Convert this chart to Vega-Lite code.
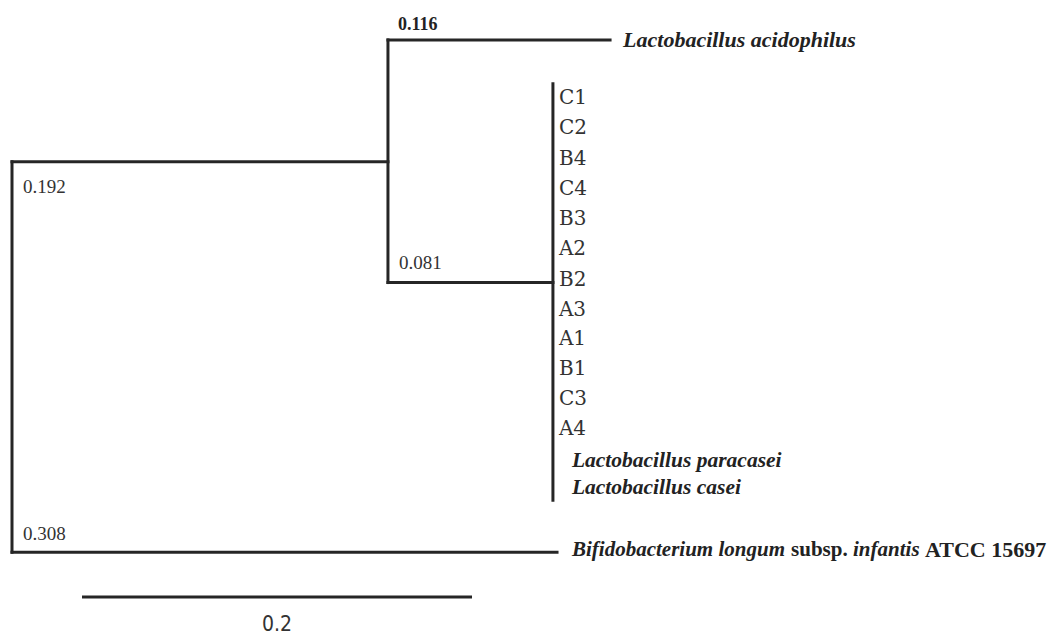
{
  "$schema": "https://vega.github.io/schema/vega-lite/v6.json",
  "width": 1054,
  "height": 635,
  "autosize": {"type": "fit", "contains": "padding"},
  "padding": 0,
  "background": "white",
  "config": {"view": {"stroke": null}},
  "datasets": {
    "branches": [
      {"id": "root-vertical", "x": 0, "x2": 0, "y": 162, "y2": 553},
      {"id": "root-nodeA", "x": 0, "x2": 0.1928, "y": 162, "y2": 162},
      {"id": "nodeA-vertical", "x": 0.1928, "x2": 0.1928, "y": 40, "y2": 283},
      {"id": "acidophilus", "x": 0.1928, "x2": 0.3067, "y": 40, "y2": 40},
      {"id": "nodeA-cluster", "x": 0.1928, "x2": 0.2774, "y": 283, "y2": 283},
      {"id": "cluster-vertical", "x": 0.2774, "x2": 0.2774, "y": 84, "y2": 501},
      {"id": "bifidobacterium", "x": 0, "x2": 0.2795, "y": 553, "y2": 553}
    ],
    "scalebar": [
      {"label": "0.2", "x": 0.0359, "x2": 0.2359, "y": 598, "mid": 0.1359, "labelY": 626}
    ],
    "leaves": [
      {"name": "Lactobacillus acidophilus", "kind": "species", "x": 0.3067, "y": 40},
      {"name": "C1", "kind": "isolate", "x": 0.2774, "y": 98},
      {"name": "C2", "kind": "isolate", "x": 0.2774, "y": 128},
      {"name": "B4", "kind": "isolate", "x": 0.2774, "y": 159},
      {"name": "C4", "kind": "isolate", "x": 0.2774, "y": 189},
      {"name": "B3", "kind": "isolate", "x": 0.2774, "y": 219},
      {"name": "A2", "kind": "isolate", "x": 0.2774, "y": 249},
      {"name": "B2", "kind": "isolate", "x": 0.2774, "y": 280},
      {"name": "A3", "kind": "isolate", "x": 0.2774, "y": 310},
      {"name": "A1", "kind": "isolate", "x": 0.2774, "y": 340},
      {"name": "B1", "kind": "isolate", "x": 0.2774, "y": 370},
      {"name": "C3", "kind": "isolate", "x": 0.2774, "y": 400},
      {"name": "A4", "kind": "isolate", "x": 0.2774, "y": 430},
      {"name": "Lactobacillus paracasei", "kind": "cluster species", "x": 0.2774, "y": 462},
      {"name": "Lactobacillus casei", "kind": "cluster species", "x": 0.2774, "y": 489}
    ],
    "bifido": [
      {"part": "Bifidobacterium longum", "x": 0.2795, "y": 551},
      {"part": "subsp.", "x": 0.2795, "y": 551},
      {"part": "infantis", "x": 0.2795, "y": 551},
      {"part": "ATCC 15697", "x": 0.2795, "y": 551}
    ],
    "nodeLabels": [
      {"label": "0.192", "x": 0, "y": 187, "weight": "normal"},
      {"label": "0.081", "x": 0.1928, "y": 263, "weight": "normal"},
      {"label": "0.308", "x": 0, "y": 535, "weight": "normal"},
      {"label": "0.116", "x": 0.1928, "y": 25, "weight": "bold"}
    ]
  },
  "layer": [
    {
      "data": {"name": "branches"},
      "mark": {"type": "rule", "strokeWidth": 3, "color": "#262626", "strokeCap": "square"},
      "encoding": {
        "x": {"field": "x", "type": "quantitative", "scale": {"domain": [-0.006154, 0.534359], "nice": false, "zero": false}, "axis": null},
        "x2": {"field": "x2"},
        "y": {"field": "y", "type": "quantitative", "scale": {"domain": [635, 0], "nice": false, "zero": false}, "axis": null},
        "y2": {"field": "y2"}
      }
    },
    {
      "data": {"name": "scalebar"},
      "mark": {"type": "rule", "strokeWidth": 3, "color": "#262626"},
      "encoding": {
        "x": {"field": "x", "type": "quantitative"},
        "x2": {"field": "x2"},
        "y": {"field": "y", "type": "quantitative"}
      }
    },
    {
      "data": {"name": "scalebar"},
      "mark": {"type": "text", "font": "Liberation Sans Narrow, DejaVu Sans Condensed, Liberation Sans", "fontSize": 21, "color": "#333333", "align": "center", "baseline": "middle"},
      "encoding": {
        "x": {"field": "mid", "type": "quantitative"},
        "y": {"field": "labelY", "type": "quantitative"},
        "text": {"field": "label"}
      }
    },
    {
      "data": {"name": "leaves"},
      "transform": [{"filter": "datum.kind === 'isolate'"}],
      "mark": {"type": "text", "font": "DejaVu Serif", "fontSize": 20, "color": "#333333", "align": "left", "baseline": "middle", "dx": 6},
      "encoding": {
        "x": {"field": "x", "type": "quantitative"},
        "y": {"field": "y", "type": "quantitative"},
        "text": {"field": "name"}
      }
    },
    {
      "data": {"name": "leaves"},
      "transform": [{"filter": "datum.kind === 'species'"}],
      "mark": {"type": "text", "font": "Liberation Serif, Times New Roman, serif", "fontSize": 22, "fontStyle": "italic", "fontWeight": "bold", "color": "#222222", "align": "left", "baseline": "middle", "dx": 13},
      "encoding": {
        "x": {"field": "x", "type": "quantitative"},
        "y": {"field": "y", "type": "quantitative"},
        "text": {"field": "name"}
      }
    },
    {
      "data": {"name": "leaves"},
      "transform": [{"filter": "datum.kind === 'cluster species'"}],
      "mark": {"type": "text", "font": "Liberation Serif, Times New Roman, serif", "fontSize": 21.5, "fontStyle": "italic", "fontWeight": "bold", "color": "#222222", "align": "left", "baseline": "middle", "dx": 19},
      "encoding": {
        "x": {"field": "x", "type": "quantitative"},
        "y": {"field": "y", "type": "quantitative"},
        "text": {"field": "name"}
      }
    },
    {
      "data": {"name": "bifido"},
      "transform": [{"filter": "datum.part === 'Bifidobacterium longum'"}],
      "mark": {"type": "text", "font": "Liberation Serif, Times New Roman, serif", "fontSize": 21, "fontStyle": "italic", "fontWeight": "bold", "color": "#222222", "align": "left", "baseline": "middle", "dx": 15},
      "encoding": {
        "x": {"field": "x", "type": "quantitative"},
        "y": {"field": "y", "type": "quantitative"},
        "text": {"field": "part"}
      }
    },
    {
      "data": {"name": "bifido"},
      "transform": [{"filter": "datum.part === 'subsp.'"}],
      "mark": {"type": "text", "font": "Liberation Serif, Times New Roman, serif", "fontSize": 21, "fontWeight": "bold", "color": "#222222", "align": "left", "baseline": "middle", "dx": 234},
      "encoding": {
        "x": {"field": "x", "type": "quantitative"},
        "y": {"field": "y", "type": "quantitative"},
        "text": {"field": "part"}
      }
    },
    {
      "data": {"name": "bifido"},
      "transform": [{"filter": "datum.part === 'infantis'"}],
      "mark": {"type": "text", "font": "Liberation Serif, Times New Roman, serif", "fontSize": 21, "fontStyle": "italic", "fontWeight": "bold", "color": "#222222", "align": "left", "baseline": "middle", "dx": 296},
      "encoding": {
        "x": {"field": "x", "type": "quantitative"},
        "y": {"field": "y", "type": "quantitative"},
        "text": {"field": "part"}
      }
    },
    {
      "data": {"name": "bifido"},
      "transform": [{"filter": "datum.part === 'ATCC 15697'"}],
      "mark": {"type": "text", "font": "Liberation Serif, Times New Roman, serif", "fontSize": 22, "fontWeight": "bold", "color": "#222222", "align": "left", "baseline": "middle", "dx": 368},
      "encoding": {
        "x": {"field": "x", "type": "quantitative"},
        "y": {"field": "y", "type": "quantitative"},
        "text": {"field": "part"}
      }
    },
    {
      "data": {"name": "nodeLabels"},
      "transform": [{"filter": "datum.weight === 'normal'"}],
      "mark": {"type": "text", "font": "Liberation Serif", "fontSize": 19, "color": "#333333", "align": "left", "baseline": "middle", "dx": 11},
      "encoding": {
        "x": {"field": "x", "type": "quantitative"},
        "y": {"field": "y", "type": "quantitative"},
        "text": {"field": "label"}
      }
    },
    {
      "data": {"name": "nodeLabels"},
      "transform": [{"filter": "datum.weight === 'bold'"}],
      "mark": {"type": "text", "font": "Liberation Serif", "fontSize": 18, "fontWeight": "bold", "color": "#222222", "align": "left", "baseline": "middle", "dx": 10},
      "encoding": {
        "x": {"field": "x", "type": "quantitative"},
        "y": {"field": "y", "type": "quantitative"},
        "text": {"field": "label"}
      }
    }
  ]
}
